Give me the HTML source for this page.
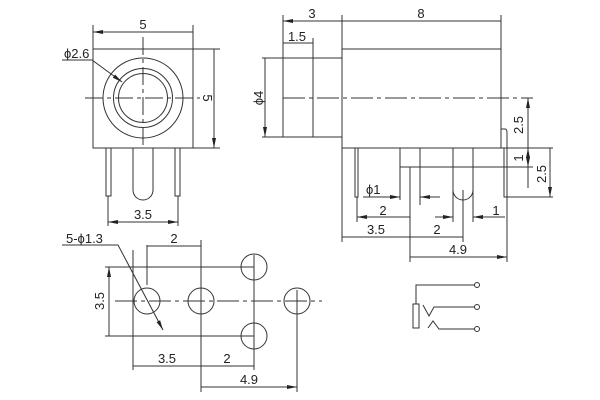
<!DOCTYPE html>
<html><head><meta charset="utf-8"><style>body{margin:0;background:#fff}svg{display:block}text{font-family:"Liberation Sans",sans-serif;font-size:13px;fill:#222}</style></head><body>
<svg width="600" height="400" viewBox="0 0 600 400" xmlns="http://www.w3.org/2000/svg">
<defs>
<marker id="a" markerWidth="10" markerHeight="6" refX="10" refY="3" orient="auto-start-reverse" markerUnits="userSpaceOnUse"><path d="M0,1 L10,3 L0,5z" fill="#222"/></marker>
</defs>
<g stroke="#333" stroke-width="1" fill="none">
<rect x="93" y="49" width="100" height="99"/>
<circle cx="143" cy="98" r="40"/><circle cx="143" cy="98" r="29.5"/><circle cx="143" cy="98" r="24.5"/>
<path d="M85 98H200M143 37V148" stroke-dasharray="18,4,4,4"/>
<path d="M93 25V49M193 25V49M193 49H220M193 148H220"/>
<path d="M93 32H193M214 49V148" marker-start="url(#a)" marker-end="url(#a)"/>
<path d="M106 148V196H111V148M175 148V196H180V148M133 148V190A10 10 0 0 0 153 190V148"/>
<path d="M108 196V226M178 196V226"/>
<path d="M108 222H178" marker-start="url(#a)" marker-end="url(#a)"/>
<path d="M62 60H92L122 82" marker-end="url(#a)"/>
<rect x="342" y="49" width="159" height="99"/>
<path d="M342 58H283V137H342M313 58V137"/>
<path d="M283 98H533" stroke-dasharray="22,4,4,4"/>
<path d="M283 15V58M342 15V49M501 15V49M313 38V58M262 58H283M262 137H283"/>
<path d="M283 21H342M342 21H501M283 43H313M265 58V137" marker-start="url(#a)" marker-end="url(#a)"/>
<path d="M501 129H505Q507 129 507 133V197H504V148"/>
<path d="M342 148H553M355 148V197H358V148M400 148V200M420 148V205M400 167H533M453 148V190A10 10 0 0 0 473 190V148M504 197H553"/>
<path d="M528 98V148M550 148V197" marker-start="url(#a)" marker-end="url(#a)"/>
<path d="M528 148V167" marker-start="url(#a)" marker-end="url(#a)"/>
<path d="M528 167V188"/>
<path d="M363 197H400" marker-end="url(#a)"/><path d="M440 197H420" marker-end="url(#a)"/>
<path d="M357 197V222M410 167V262M342 148V242M463 190V242M453 190V222M473 190V222M507 197V262"/>
<path d="M357 217H410M342 237H410M410 237H463M410 257H507" marker-start="url(#a)" marker-end="url(#a)"/>
<path d="M435 217H453" marker-end="url(#a)"/><path d="M505 217H473" marker-end="url(#a)"/>
<circle cx="147" cy="301" r="13"/><circle cx="201" cy="301" r="13"/><circle cx="254" cy="267" r="13"/><circle cx="254" cy="336" r="13"/><circle cx="297" cy="301" r="13"/>
<path d="M115 301H322" stroke-dasharray="22,4,4,4"/>
<path d="M105 267H254M105 336H254M133 250V370M147 245V285M201 240V392M254 255V370M297 290V392"/>
<path d="M109 267V336M147 246H201M133 366H201M201 366H254M201 387H297" marker-start="url(#a)" marker-end="url(#a)"/>
<path d="M62 245H118L163 330" marker-end="url(#a)"/>
<rect x="413" y="304" width="6" height="24"/>
<path d="M416 304V285H475M423 305L429 316L434 307H475M428 328L433 321L439 329H475"/>
<circle cx="477" cy="285" r="2.5"/><circle cx="477" cy="307" r="2.5"/><circle cx="477" cy="329" r="2.5"/>
</g>
<g>
<text x="143" y="29" text-anchor="middle">5</text>
<text x="64" y="58">ϕ2.6</text>
<text transform="translate(203,98) rotate(90)" text-anchor="middle">5</text>
<text x="143" y="219" text-anchor="middle">3.5</text>
<text x="312" y="18" text-anchor="middle">3</text>
<text x="421" y="18" text-anchor="middle">8</text>
<text x="297" y="41" text-anchor="middle">1.5</text>
<text transform="translate(263,98) rotate(-90)" text-anchor="middle">ϕ4</text>
<text transform="translate(523,125) rotate(-90)" text-anchor="middle">2.5</text>
<text transform="translate(523,158) rotate(-90)" text-anchor="middle">1</text>
<text transform="translate(546,174) rotate(-90)" text-anchor="middle">2.5</text>
<text x="366" y="194">ϕ1</text>
<text x="383" y="215" text-anchor="middle">2</text>
<text x="496" y="215" text-anchor="middle">1</text>
<text x="376" y="234" text-anchor="middle">3.5</text>
<text x="437" y="234" text-anchor="middle">2</text>
<text x="458" y="254" text-anchor="middle">4.9</text>
<text x="66" y="243">5-ϕ1.3</text>
<text x="174" y="243" text-anchor="middle">2</text>
<text transform="translate(104,301) rotate(-90)" text-anchor="middle">3.5</text>
<text x="167" y="363" text-anchor="middle">3.5</text>
<text x="227" y="363" text-anchor="middle">2</text>
<text x="249" y="384" text-anchor="middle">4.9</text>
</g>
</svg>
</body></html>
